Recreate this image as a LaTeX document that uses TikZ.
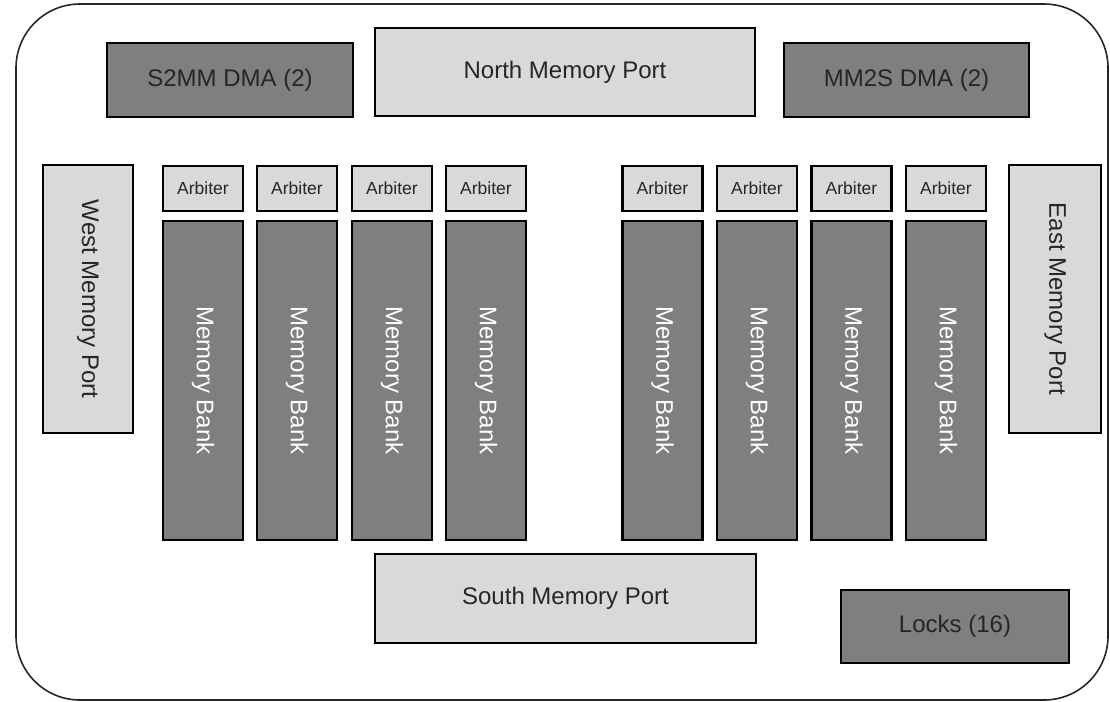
\documentclass[tikz,border=0pt]{standalone}
\usepackage{fontspec}
\setmainfont{Liberation Sans}
\definecolor{darkfill}{HTML}{7F7F7F}
\definecolor{lightfill}{HTML}{D9D9D9}
\definecolor{txt}{HTML}{262626}
\begin{document}
\begin{tikzpicture}[x=1pt,y=-1pt,
  blk/.style={draw=black, line width=2.2pt, inner sep=0pt, text=txt,
    font=\fontsize{24}{28}\selectfont},
  darkblk/.style={blk, fill=darkfill},
  lightblk/.style={blk, fill=lightfill},
  arbiterblk/.style={lightblk, minimum width=80pt, minimum height=45pt,
    font=\fontsize{17.5}{20}\selectfont},
  bankblk/.style={darkblk, minimum width=80pt, minimum height=319pt, text=white},
  vert/.style={rotate=-90}]
\useasboundingbox (0,0) rectangle (1110,701);
\node[draw=black!85, line width=1.6pt, rounded corners=64pt, minimum width=1092pt,
  minimum height=696pt, inner sep=0pt] (tile) at (562,352) {};
\node[darkblk, minimum width=246pt, minimum height=74pt] (s2mm) at (230,80) {S2MM DMA (2)};
\node[lightblk, minimum width=380pt, minimum height=88pt] (north) at (565,72) {North Memory Port};
\node[darkblk, minimum width=245pt, minimum height=74pt] (mm2s) at (906.5,80) {MM2S DMA (2)};
\node[lightblk, minimum width=90pt, minimum height=268pt] (west) at (88,299) {};
\node[vert, text=txt, font=\fontsize{24}{28}\selectfont] (westlbl) at (west.center) {West Memory Port};
\node[lightblk, minimum width=92pt, minimum height=268pt] (east) at (1055,299) {};
\node[vert, text=txt, font=\fontsize{24}{28}\selectfont] (eastlbl) at (east.center) {East Memory Port};
\foreach \i/\x in {1/203,2/297,3/392,4/486,5/662.5,6/757,7/851.5,8/946}{
  \node[arbiterblk] (arb\i) at (\x,188.5) {Arbiter};
  \node[bankblk] (bank\i) at (\x,380.5) {};
  \node[vert, text=white, font=\fontsize{24}{28}\selectfont] (banklbl\i) at (bank\i.center) {Memory Bank};
}
\node[lightblk, minimum width=381pt, minimum height=89pt] (south) at (565.5,598.5) {South Memory Port};
\node[darkblk, minimum width=228pt, minimum height=73pt] (locks) at (955,626.5) {Locks (16)};
\end{tikzpicture}
\end{document}
